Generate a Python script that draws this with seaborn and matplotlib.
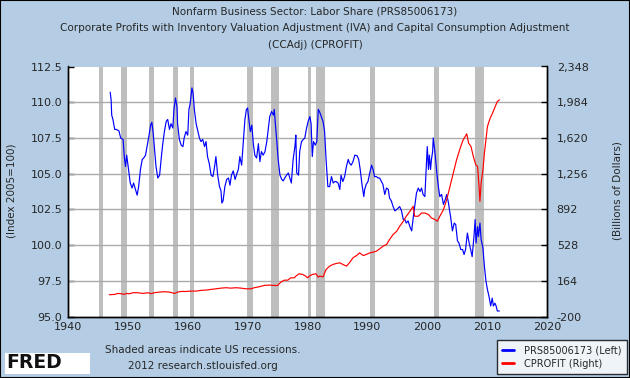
import matplotlib
matplotlib.use("Agg")
import matplotlib.pyplot as plt
import seaborn as sns
import pandas as pd
from matplotlib.patches import Rectangle

# labor share (left axis), decimal years
labor_year = [1947.05, 1947.2, 1947.3, 1947.5, 1947.8, 1948.05, 1948.5, 1948.8, 1949.2, 1949.4,
              1949.6, 1949.8, 1950.1, 1950.4, 1950.7, 1950.95, 1951.2, 1951.55, 1951.8, 1952.1,
              1952.4, 1952.65, 1952.95, 1953.2, 1953.5, 1953.8, 1954.0, 1954.2, 1954.45, 1954.7,
              1955.0, 1955.3, 1955.55, 1955.8, 1956.1, 1956.4, 1956.65, 1956.95, 1957.2, 1957.5,
              1957.7, 1957.95, 1958.2, 1958.3, 1958.6, 1958.9, 1959.2, 1959.4, 1959.7, 1960.0,
              1960.2, 1960.4, 1960.7, 1960.9, 1961.1, 1961.4, 1961.7, 1961.95, 1962.2, 1962.5,
              1962.8, 1963.05, 1963.3, 1963.6, 1963.9, 1964.2, 1964.45, 1964.7, 1965.0, 1965.3,
              1965.55, 1965.7, 1965.9, 1966.2, 1966.5, 1966.8, 1967.05, 1967.3, 1967.6, 1967.9,
              1968.2, 1968.45, 1968.7, 1969.0, 1969.3, 1969.55, 1969.8, 1970.0, 1970.2, 1970.45,
              1970.7, 1970.95, 1971.2, 1971.5, 1971.8, 1972.05, 1972.3, 1972.6, 1972.9, 1973.2,
              1973.4, 1973.7, 1974.0, 1974.3, 1974.45, 1974.6, 1974.85, 1975.1, 1975.4, 1975.7,
              1975.95, 1976.2, 1976.5, 1976.8, 1977.05, 1977.3, 1977.6, 1977.9, 1978.05, 1978.2,
              1978.5, 1978.7, 1979.0, 1979.3, 1979.55, 1979.8, 1980.1, 1980.4, 1980.6, 1980.8,
              1981.0, 1981.3, 1981.55, 1981.8, 1982.0, 1982.3, 1982.6, 1982.85, 1983.1, 1983.4,
              1983.7, 1984.0, 1984.3, 1984.55, 1984.8, 1985.1, 1985.4, 1985.6, 1985.9, 1986.2,
              1986.5, 1986.8, 1987.0, 1987.3, 1987.6, 1987.9, 1988.3, 1988.55, 1988.8, 1989.1,
              1989.4, 1989.55, 1989.8, 1990.1, 1990.4, 1990.7, 1990.95, 1991.2, 1991.5, 1991.8,
              1992.05, 1992.35, 1992.6, 1992.9, 1993.2, 1993.5, 1993.7, 1994.0, 1994.3, 1994.6,
              1994.9, 1995.15, 1995.4, 1995.7, 1996.0, 1996.25, 1996.5, 1996.8, 1997.1, 1997.4,
              1997.65, 1997.9, 1998.2, 1998.5, 1998.8, 1999.05, 1999.3, 1999.6, 1999.8, 2000.0,
              2000.2, 2000.35, 2000.55, 2000.7, 2000.9, 2001.0, 2001.2, 2001.35, 2001.6, 2001.85,
              2002.1, 2002.4, 2002.7, 2003.0, 2003.25, 2003.55, 2003.7, 2003.9, 2004.2, 2004.5,
              2004.75, 2005.05, 2005.3, 2005.6, 2005.9, 2006.15, 2006.4, 2006.7, 2007.0, 2007.25,
              2007.5, 2007.8, 2008.0, 2008.15, 2008.4, 2008.55, 2008.8, 2009.0, 2009.3, 2009.55,
              2009.8, 2010.05, 2010.3, 2010.6, 2010.85, 2011.05, 2011.3, 2011.5, 2011.7, 2012.05]
labor_share = [110.7, 110.16, 109.1, 108.8, 108.1, 108.1, 108.0, 107.5, 107.4, 106.2,
               105.5, 106.3, 105.3, 104.35, 104.0, 104.35, 104.0, 103.5, 104.1, 105.3,
               106.0, 106.1, 106.3, 106.9, 107.6, 108.4, 108.6, 107.95, 106.7, 105.5,
               104.7, 104.9, 106.0, 107.0, 107.95, 108.65, 108.8, 108.1, 108.5, 108.2,
               109.5, 110.3, 109.7, 108.5, 107.4, 107.0, 106.9, 107.5, 107.95, 107.7,
               109.5, 109.9, 111.0, 110.6, 109.5, 108.5, 107.95, 107.5, 107.25, 107.4,
               106.9, 107.25, 106.2, 105.7, 104.9, 104.8, 105.4, 106.2, 104.9, 104.1,
               103.8, 102.95, 103.1, 104.1, 104.6, 104.7, 104.2, 104.9, 105.2, 104.6,
               105.0, 105.3, 106.2, 105.6, 107.4, 108.8, 109.5, 109.6, 108.8, 107.95,
               108.4, 107.1, 106.3, 106.1, 107.1, 105.85, 106.55, 106.3, 106.55, 107.25,
               107.95, 109.0, 109.35, 109.1, 109.5, 108.65, 107.4, 106.0, 104.9, 104.6,
               104.5, 104.7, 104.9, 105.05, 104.7, 104.35, 106.0, 106.9, 107.7, 105.05,
               104.9, 106.55, 107.25, 107.4, 107.5, 108.1, 108.65, 109.0, 108.5, 106.2,
               107.25, 107.0, 107.25, 109.5, 109.35, 109.0, 108.65, 107.95, 106.0, 104.1,
               104.1, 104.8, 104.35, 104.45, 104.45, 104.35, 103.9, 104.9, 104.45, 104.8,
               105.5, 106.0, 105.75, 105.6, 105.85, 106.3, 106.25, 106.0, 105.3, 104.25,
               103.4, 103.9, 104.25, 104.45, 105.05, 105.6, 105.3, 104.8, 104.8, 104.7,
               104.7, 104.45, 104.25, 103.55, 104.0, 103.9, 103.3, 103.1, 102.7, 102.4,
               102.5, 102.6, 102.7, 102.4, 101.8, 101.8, 101.55, 101.7, 101.3, 101.0,
               101.9, 102.7, 103.65, 104.0, 103.75, 104.0, 103.55, 103.4, 105.2, 106.9,
               105.3, 106.3, 105.3, 106.0, 106.55, 107.5, 106.8, 106.2, 105.05, 104.1,
               103.4, 103.55, 102.85, 103.2, 103.55, 102.95, 102.5, 102.0, 101.0, 101.55,
               101.45, 100.3, 100.15, 99.7, 99.7, 99.35, 99.7, 100.85, 100.15, 99.7,
               99.2, 100.6, 101.8, 100.15, 101.3, 100.6, 101.55, 100.4, 99.8, 98.5,
               97.5, 96.9, 96.45, 95.75, 96.3, 95.75, 95.95, 95.75, 95.4, 95.4]

# corporate profits (right axis), billions of dollars
profit_year = [1946.9, 1947.8, 1948.3, 1948.9, 1949.4, 1949.7, 1950.3, 1950.8, 1951.7, 1952.5,
               1953.4, 1953.9, 1954.4, 1955.3, 1956.1, 1956.9, 1957.8, 1958.3, 1958.9, 1959.7,
               1960.6, 1961.4, 1962.2, 1963.05, 1963.9, 1964.7, 1965.55, 1966.4, 1967.2, 1968.05,
               1968.9, 1969.7, 1970.55, 1971.1, 1971.95, 1972.75, 1973.6, 1974.45, 1975.0, 1975.55,
               1976.1, 1976.7, 1977.2, 1977.8, 1978.05, 1978.6, 1979.2, 1979.7, 1980.0, 1980.3,
               1980.8, 1981.4, 1981.8, 1982.0, 1982.6, 1983.1, 1983.7, 1984.25, 1984.8, 1985.4,
               1985.9, 1986.5, 1987.0, 1987.6, 1988.2, 1988.7, 1989.3, 1989.8, 1990.4, 1990.95,
               1991.5, 1992.05, 1992.6, 1993.2, 1993.7, 1994.3, 1994.9, 1995.4, 1996.0, 1996.5,
               1997.1, 1997.65, 1997.9, 1998.5, 1999.05, 1999.6, 2000.2, 2000.7, 2001.3, 2001.7,
               2002.1, 2002.7, 2003.25, 2003.8, 2004.35, 2004.9, 2005.5, 2006.0, 2006.6, 2006.9,
               2007.3, 2007.7, 2008.1, 2008.4, 2008.65, 2008.8, 2009.0, 2009.3, 2009.55, 2009.8,
               2010.05, 2010.5, 2010.9, 2011.35, 2011.7, 2012.05]
profit_value = [24, 27, 37, 34, 27, 37, 34, 44, 44, 37,
                44, 34, 44, 51, 54, 51, 37, 51, 57, 57,
                61, 61, 68, 71, 78, 84, 91, 95, 91, 95,
                91, 84, 84, 95, 105, 118, 122, 118, 118, 152,
                172, 172, 196, 196, 213, 237, 230, 213, 196, 213,
                230, 237, 203, 213, 206, 281, 315, 332, 342, 349,
                332, 315, 349, 400, 423, 450, 423, 433, 450, 457,
                467, 491, 518, 535, 586, 637, 670, 721, 772, 823,
                873, 924, 823, 823, 856, 856, 840, 806, 789, 772,
                823, 890, 992, 1127, 1263, 1398, 1517, 1601, 1662, 1568,
                1534, 1432, 1347, 1330, 1127, 975, 1161, 1297, 1466, 1601,
                1737, 1821, 1872, 1940, 1991, 2008]

# US recessions (NBER)
recession_start = [1945.1, 1948.85, 1953.5, 1957.6, 1960.3, 1969.95, 1973.85, 1980.0, 1981.5, 1990.5, 2001.2, 2007.95]
recession_end = [1945.8, 1949.8, 1954.4, 1958.3, 1961.1, 1970.9, 1975.2, 1980.55, 1982.9, 1991.2, 2001.9, 2009.5]

left_ticks = [95.0, 97.5, 100.0, 102.5, 105.0, 107.5, 110.0, 112.5]
right_ticks = [-200, 164, 528, 892, 1256, 1620, 1984, 2348]
year_ticks = [1940, 1950, 1960, 1970, 1980, 1990, 2000, 2010, 2020]

labor = pd.DataFrame({"year": labor_year, "value": labor_share})
profit = pd.DataFrame({"year": profit_year, "value": profit_value})

sns.set_style("white")
plt.rcParams["font.family"] = ["DejaVu Sans"]

bg = "#B4CDE4"
fig = plt.figure(figsize=(6.3, 3.78), dpi=100)
fig.patch.set_facecolor(bg)

ax = fig.add_axes([68 / 630, 1 - 316.7 / 378, 479 / 630, 250.2 / 378])
ax.set_facecolor("white")

# recession shading
for s, e in zip(recession_start, recession_end):
    ax.axvspan(s, e, color="#BEBEBE", lw=0, zorder=0)

# horizontal grid
for t in left_ticks[1:-1]:
    ax.axhline(t, color="#ABABAB", lw=1.0, zorder=1)

sns.lineplot(data=labor, x="year", y="value", ax=ax, color="#0000FF", lw=0.85,
             zorder=3, label="PRS85006173 (Left)", legend=False)

ax2 = ax.twinx()
sns.lineplot(data=profit, x="year", y="value", ax=ax2, color="#FF0000", lw=0.85,
             zorder=3, label="CPROFIT (Right)", legend=False)

ax.set_xlim(1940, 2020)
ax.set_ylim(95, 112.5)
ax2.set_ylim(-200, 2348)
ax.set_xticks(year_ticks)
ax.set_yticks(left_ticks)
ax.set_yticklabels([f"{t:.1f}" for t in left_ticks])
ax2.set_yticks(right_ticks)
ax2.set_yticklabels([f"{t:,}" for t in right_ticks])
ax.set_xlabel("")
ax.set_ylabel("")
ax2.set_ylabel("")

for a in (ax, ax2):
    for side in ("left", "right", "bottom"):
        a.spines[side].set_color("black")
        a.spines[side].set_linewidth(1.0)
    a.spines["top"].set_visible(False)
ax.tick_params(axis="y", direction="in", length=4, width=1, pad=4, labelsize=8, color="black")
ax.tick_params(axis="x", direction="in", length=4, width=1, pad=4, labelsize=8, color="black")
ax2.tick_params(axis="y", direction="in", length=4, width=1, pad=7, labelsize=8, color="black")

fig.text(12 / 630, 1 - 191 / 378, "(Index 2005=100)", rotation=90, ha="center", va="center", fontsize=7.5)
fig.text(617 / 630, 1 - 191 / 378, "(Billions of Dollars)", rotation=90, ha="center", va="center", fontsize=7.5)

fig.text(0.5, 1 - 11 / 378, "Nonfarm Business Sector: Labor Share (PRS85006173)", ha="center", va="center", fontsize=7.5)
fig.text(0.5, 1 - 28 / 378, "Corporate Profits with Inventory Valuation Adjustment (IVA) and Capital Consumption Adjustment",
         ha="center", va="center", fontsize=7.5)
fig.text(0.5, 1 - 45 / 378, "(CCAdj) (CPROFIT)", ha="center", va="center", fontsize=7.5)

fig.text(203 / 630, 1 - 350 / 378, "Shaded areas indicate US recessions.", ha="center", va="center", fontsize=7.5)
fig.text(203 / 630, 1 - 366 / 378, "2012 research.stlouisfed.org", ha="center", va="center", fontsize=7.5)

# FRED logo box
fig.patches.append(Rectangle((5 / 630, 1 - 374 / 378), 85 / 630, 21 / 378, transform=fig.transFigure,
                             facecolor="white", edgecolor="none"))
fig.text(6 / 630, 1 - 362 / 378, "FRED", ha="left", va="center", fontsize=13.5, fontweight="bold", color="#111111")

h1, l1 = ax.get_legend_handles_labels()
h2, l2 = ax2.get_legend_handles_labels()
leg = fig.legend(h1 + h2, l1 + l2, loc="lower right", bbox_to_anchor=(627 / 630, 1 - 374 / 378),
                 fontsize=7, frameon=True, fancybox=False, handlelength=1.25, handletextpad=1.0,
                 borderpad=0.55, labelspacing=0.35, borderaxespad=0)
leg.get_frame().set_edgecolor("black")
leg.get_frame().set_linewidth(1.0)
for line in leg.get_lines():
    line.set_linewidth(2)

# outer border
fig.patches.append(Rectangle((0, 0), 1, 1, transform=fig.transFigure, facecolor="none",
                             edgecolor="black", lw=1.5))

fig.savefig("out.png", dpi=100, facecolor=bg)
